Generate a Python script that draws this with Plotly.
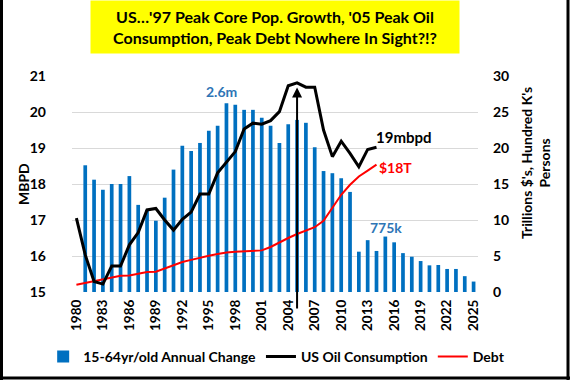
import plotly.graph_objects as go

# 15-64yr/old annual change (hundred K's) -- right axis
pop_years = list(range(1981, 2026))
pop_change = [17.6, 15.6, 14.2, 15.0, 15.0, 16.1, 12.1, 11.4, 9.9, 13.1,
              17.0, 20.3, 19.6, 20.7, 22.4, 23.1, 26.2, 26.0, 25.3, 25.3,
              24.2, 23.1, 20.7, 23.3, 23.9, 23.5, 20.1, 16.8, 16.5, 15.8,
              13.9, 5.6, 7.2, 5.7, 7.7, 6.9, 5.4, 4.9, 4.3, 3.7,
              3.75, 3.2, 3.2, 2.2, 1.45]

# US oil consumption (MBPD) -- left axis
oil_years = list(range(1980, 2015))
oil_mbpd = [17.05, 16.03, 15.29, 15.22, 15.72, 15.72, 16.31, 16.65, 17.28, 17.32,
            17.0, 16.72, 17.02, 17.22, 17.72, 17.72, 18.31, 18.62, 18.9, 19.53,
            19.69, 19.66, 19.76, 20.01, 20.73, 20.81, 20.69, 20.69, 19.5, 18.76,
            19.19, 18.85, 18.48, 18.96, 19.02]

# Debt (trillions $) -- right axis
debt_years = list(range(1980, 2015))
debt_tn = [1.0, 1.25, 1.47, 1.7, 1.94, 2.26, 2.3, 2.54, 2.78, 2.82,
           3.28, 3.75, 4.17, 4.46, 4.78, 5.04, 5.28, 5.5, 5.6, 5.69,
           5.74, 5.78, 6.25, 6.9, 7.5, 8.06, 8.56, 9.0, 9.9, 11.67,
           13.5, 14.9, 16.05, 16.85, 17.68]

x_ticks = list(range(1980, 2026, 3))

FONT = "Lato"
BLUE = "#0070C0"
LBLUE = "#2E75B6"

fig = go.Figure()
fig.add_trace(go.Bar(x=pop_years, y=pop_change, name="15-64yr/old Annual Change",
                     marker=dict(color=BLUE, line=dict(width=0)), width=0.42,
                     yaxis="y"))
fig.add_trace(go.Scatter(x=oil_years, y=oil_mbpd, name="US Oil Consumption",
                         mode="lines", line=dict(color="black", width=3),
                         yaxis="y2"))
fig.add_trace(go.Scatter(x=debt_years, y=debt_tn, name="Debt", mode="lines",
                         line=dict(color="#FF0000", width=2), yaxis="y"))

tickfont = dict(family=FONT, size=14, color="black", weight="bold")

fig.update_layout(
    width=570, height=380,
    margin=dict(l=72, r=92, t=76, b=88, autoexpand=False),
    paper_bgcolor="white", plot_bgcolor="white",
    font=dict(family=FONT, color="black"),
    showlegend=True,
    barmode="overlay",
    xaxis=dict(range=[1979.5, 2025.5], tickvals=x_ticks,
               ticktext=[str(v) for v in x_ticks], tickangle=-90,
               tickfont=dict(family=FONT, size=13.5, color="black", weight="bold"),
               showgrid=False, zeroline=False, showline=False, ticks="",
               ticklabelstandoff=4),
    yaxis=dict(range=[0, 30], dtick=5, side="right",
               showgrid=True, gridcolor="#D9D9D9", gridwidth=1,
               zeroline=False, showline=False, ticks="",
               tickfont=tickfont, ticklabelstandoff=14),
    yaxis2=dict(range=[15, 21], dtick=1, side="left", overlaying="y",
                showgrid=False, zeroline=False, showline=False, ticks="",
                tickfont=tickfont, ticklabelstandoff=25),
    legend=dict(orientation="h", x=-0.071, xanchor="left",
                y=-0.30, yanchor="middle",
                font=dict(family=FONT, size=14, color="black", weight="bold"),
                bgcolor="rgba(0,0,0,0)", itemwidth=30, traceorder="normal",
                borderwidth=0),
)

titlefont = dict(family=FONT, size=14, color="black", weight="bold")
anns = [
    dict(text="US…'97 Peak Core Pop. Growth, '05 Peak Oil<br>Consumption, Peak Debt Nowhere In Sight?!?",
         xref="paper", yref="paper", x=0.5, y=1.227, xanchor="center", yanchor="middle",
         showarrow=False, bgcolor="#FFFF00", width=366, height=50, borderpad=1,
         font=dict(family=FONT, size=16, color="black", weight="bold")),
    dict(text="MBPD", xref="paper", yref="paper", x=-0.1207, y=0.5,
         xanchor="center", yanchor="middle",
         textangle=-90, showarrow=False, font=titlefont),
    dict(text="Trillions $'s, Hundred K's<br>Persons", xref="paper", yref="paper",
         x=1.1404, y=0.597, xanchor="center", yanchor="middle",
         textangle=-90, showarrow=False, font=titlefont),
    dict(text="20.8mbpd", x=2004, y=21.17, xref="x", yref="y2", showarrow=False,
         font=dict(family=FONT, size=15, color="black", weight="bold")),
    dict(text="2.6m", x=1996.4, y=20.56, xref="x", yref="y2", showarrow=False,
         font=dict(family=FONT, size=14, color=LBLUE, weight="bold")),
    dict(text="19mbpd", x=2017.1, y=19.3, xref="x", yref="y2", showarrow=False,
         font=dict(family=FONT, size=15, color="black", weight="bold")),
    dict(text="$18T", x=2016.2, y=18.47, xref="x", yref="y2", showarrow=False,
         font=dict(family=FONT, size=14, color="#FF0000", weight="bold")),
    dict(text="775k", x=2015.1, y=16.78, xref="x", yref="y2", showarrow=False,
         font=dict(family=FONT, size=14, color=LBLUE, weight="bold")),
    dict(text="150k", x=2026.4, y=15.53, xref="x", yref="y2", showarrow=False,
         font=dict(family=FONT, size=14, color=LBLUE, weight="bold")),
    dict(text="", x=2005, y=20.68, xref="x", yref="y2", ax=2005, ay=14.5,
         axref="x", ayref="y2", showarrow=True, arrowhead=2, arrowsize=1,
         arrowwidth=2, arrowcolor="black", standoff=0),
]
fig.update_layout(annotations=anns)

# chart border (left, right, bottom)
pw, ph = 406.0, 216.0
x_left = -72 / pw
x_right = 1 + 92 / pw
y_bot = -88 / ph
y_top = 1 + 76 / ph
border = dict(color="black", width=3)
fig.add_shape(type="line", xref="paper", yref="paper", x0=x_left + 1.5 / pw, x1=x_left + 1.5 / pw,
              y0=y_bot, y1=y_top, line=border)
fig.add_shape(type="line", xref="paper", yref="paper", x0=x_right - 2 / pw, x1=x_right - 2 / pw,
              y0=y_bot, y1=y_top, line=border)
fig.add_shape(type="line", xref="paper", yref="paper", x0=x_left, x1=x_right,
              y0=y_bot + 2 / ph, y1=y_bot + 2 / ph, line=border)

fig.write_html("out.html", config={"displayModeBar": False},
               post_script="document.body.style.margin='0';document.body.style.overflow='hidden';")
